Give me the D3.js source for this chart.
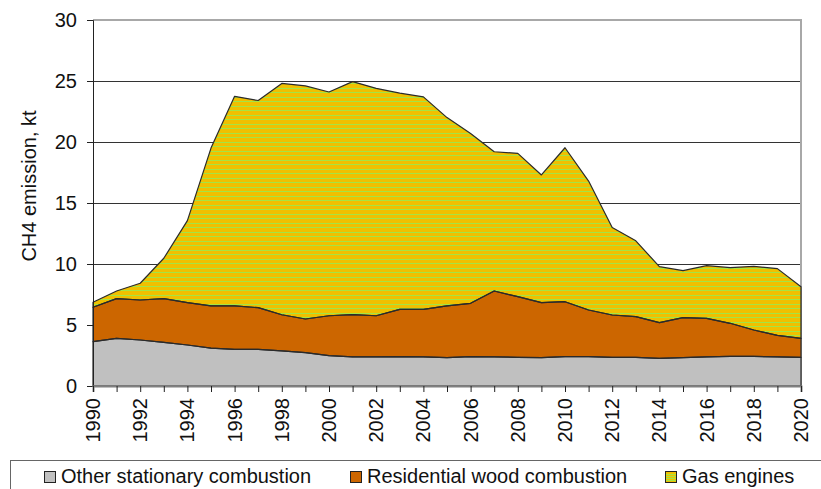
<!DOCTYPE html>
<html>
<head>
<meta charset="utf-8">
<script src="https://cdn.jsdelivr.net/npm/d3@7"></script>
<style>
  body { margin: 0; background: #fff; }
  svg { font-family: "Liberation Sans", Arial, sans-serif; }
</style>
</head>
<body>
<svg id="chart" width="821" height="489"></svg>
<script>
const years = d3.range(1990, 2021);
const seriesNames = ["Other stationary combustion", "Residential wood combustion", "Gas engines"];
const otherStationary = [3.63, 3.9, 3.77, 3.58, 3.36, 3.11, 3.0, 3.0, 2.88, 2.73, 2.49, 2.38, 2.38, 2.41, 2.38, 2.32, 2.41, 2.38, 2.35, 2.32, 2.41, 2.4, 2.35, 2.35, 2.27, 2.33, 2.38, 2.43, 2.43, 2.38, 2.35];
const residentialWood = [2.82, 3.26, 3.28, 3.58, 3.47, 3.45, 3.56, 3.42, 2.96, 2.76, 3.27, 3.47, 3.38, 3.87, 3.9, 4.24, 4.37, 5.41, 4.97, 4.51, 4.5, 3.83, 3.47, 3.33, 2.92, 3.27, 3.17, 2.71, 2.16, 1.77, 1.55];
const gasEngines = [0.41, 0.63, 1.37, 3.31, 6.73, 12.94, 17.18, 16.98, 18.96, 19.11, 18.34, 19.1, 18.64, 17.72, 17.42, 15.44, 13.92, 11.41, 11.75, 10.47, 12.62, 10.57, 7.18, 6.22, 4.59, 3.85, 4.31, 4.56, 5.22, 5.47, 4.24];
const yTicks = [0, 5, 10, 15, 20, 25, 30];
const xLabelYears = d3.range(1990, 2021, 2);

const rows = years.map((y, i) => ({ year: y, other: otherStationary[i], wood: residentialWood[i], gas: gasEngines[i] }));
const keys = ["other", "wood", "gas"];

const svg = d3.select("#chart");
const plotLeft = 93, plotRight = 801, plotTop = 20, plotBottom = 386;
const fontSize = 20;
const stripeColor = "#a4e444";

const x = d3.scaleLinear().domain([1990, 2020]).range([plotLeft, plotRight]);
const y = d3.scaleLinear().domain([0, 30]).range([plotBottom, plotTop]);

const fills = { other: "#c0c0c0", wood: "#cc6600", gas: "#f0c000" };

// gridlines
svg.append("g")
  .selectAll("line")
  .data(yTicks.filter(d => d > 0 && d < 30))
  .join("line")
  .attr("x1", plotLeft).attr("x2", plotRight)
  .attr("y1", d => Math.round(y(d)) + 0.5).attr("y2", d => Math.round(y(d)) + 0.5)
  .attr("stroke", "#333").attr("stroke-width", 1);

// plot border top/right
svg.append("path")
  .attr("d", `M${plotLeft},${y(30)}H${plotRight}V${plotBottom}`)
  .attr("fill", "none").attr("stroke", "#a8a8a8").attr("stroke-width", 2);

const stack = d3.stack().keys(keys);
const layers = stack(rows);

const area = d3.area()
  .x(d => x(d.data.year))
  .y0(d => y(d[0]))
  .y1(d => y(d[1]));

// fills
svg.append("g")
  .selectAll("path")
  .data(layers)
  .join("path")
  .attr("d", area)
  .attr("fill", d => fills[d.key]);

// green hatch on gas engines, clipped to its area
svg.append("clipPath").attr("id", "gasClip")
  .append("path").attr("d", area(layers[2]));
svg.append("g")
  .attr("clip-path", "url(#gasClip)")
  .selectAll("line")
  .data(d3.range(plotTop, plotBottom, 4.5))
  .join("line")
  .attr("x1", plotLeft).attr("x2", plotRight)
  .attr("y1", d => Math.round(d) + 0.5).attr("y2", d => Math.round(d) + 0.5)
  .attr("stroke", stripeColor).attr("stroke-width", 1);

// outlines
svg.append("g")
  .selectAll("path")
  .data(layers)
  .join("path")
  .attr("d", area)
  .attr("fill", "none")
  .attr("stroke", "#2a2a2a")
  .attr("stroke-width", 1.2)
  .attr("stroke-linejoin", "round");

// y axis
const yAxis = svg.append("g")
  .attr("transform", `translate(${plotLeft},0)`)
  .call(d3.axisLeft(y).tickValues(yTicks).tickSize(6).tickPadding(10));
yAxis.select(".domain").attr("stroke", "#222");
yAxis.selectAll(".tick line").attr("stroke", "#222");
yAxis.selectAll("text").attr("font-size", fontSize).attr("fill", "#111").attr("font-family", "Liberation Sans, Arial, sans-serif");

// x axis
const xAxis = svg.append("g")
  .attr("transform", `translate(0,${plotBottom})`)
  .call(d3.axisBottom(x).tickValues(years).tickSize(6).tickFormat(""));
xAxis.select(".domain").attr("stroke", "#808080").attr("stroke-width", 2);
xAxis.selectAll(".tick line").attr("stroke", "#222");

svg.append("g")
  .selectAll("text")
  .data(xLabelYears)
  .join("text")
  .attr("transform", d => `translate(${x(d) + 7},398) rotate(-90)`)
  .attr("text-anchor", "end")
  .attr("font-size", fontSize)
  .attr("fill", "#111")
  .text(d => d);

// y title
svg.append("text")
  .attr("transform", `translate(36,186) rotate(-90)`)
  .attr("text-anchor", "middle")
  .attr("font-size", fontSize)
  .attr("fill", "#111")
  .text("CH4 emission, kt");

// legend
svg.append("rect")
  .attr("x", 10.5).attr("y", 460.5)
  .attr("width", 840).attr("height", 60)
  .attr("fill", "#fff").attr("stroke", "#666");

const legendX = [44, 350, 665];
const lg = svg.append("g")
  .selectAll("g")
  .data(keys)
  .join("g")
  .attr("transform", (d, i) => `translate(${legendX[i]},471)`);
lg.append("rect")
  .attr("x", 0.5).attr("y", 0.5)
  .attr("width", 11).attr("height", 11)
  .attr("fill", d => fills[d])
  .attr("stroke", "#222");
lg.filter(d => d === "gas")
  .selectAll("line")
  .data([3, 5, 7, 9])
  .join("line")
  .attr("x1", 1).attr("x2", 11)
  .attr("y1", d => d + 0.5).attr("y2", d => d + 0.5)
  .attr("stroke", stripeColor);
lg.append("text")
  .attr("x", 17).attr("y", 12)
  .attr("font-size", fontSize)
  .attr("fill", "#111")
  .text((d, i) => seriesNames[i]);
</script>
</body>
</html>
